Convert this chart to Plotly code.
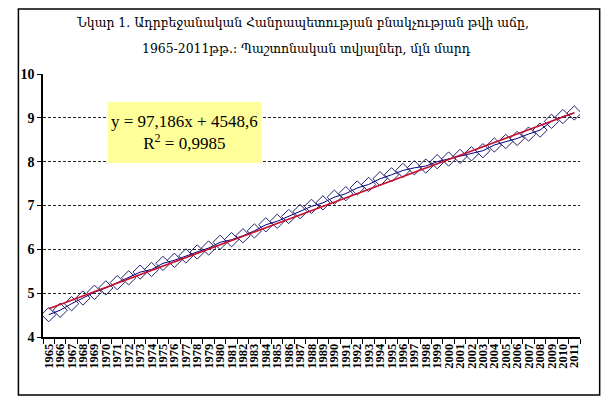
import plotly.graph_objects as go

years = [str(y) for y in range(1965, 2012)]
population = [4.51, 4.61, 4.76, 4.89, 5.02, 5.12, 5.24, 5.35, 5.48, 5.54,
              5.68, 5.75, 5.85, 5.94, 6.03, 6.16, 6.22, 6.31, 6.42, 6.56,
              6.64, 6.75, 6.86, 6.98, 7.06, 7.19, 7.27, 7.40, 7.48, 7.61,
              7.70, 7.80, 7.86, 7.90, 8.00, 8.06, 8.12, 8.18, 8.25, 8.38,
              8.46, 8.53, 8.63, 8.72, 8.92, 9.03, 9.11]
trend_slope = 97.186      # thousand per year index
trend_intercept = 4548.6  # thousand
trend_label = "y = 97,186x + 4548,6<br>R<sup>2</sup> = 0,9985"
title_line1 = "Նկար 1. Ադրբեջանական Հանրապետության բնակչության թվի աճը,"
title_line2 = "1965-2011թթ.: Պաշտոնական տվյալներ, մլն մարդ"
y_ticks = [4, 5, 6, 7, 8, 9, 10]

trend_values = [(trend_slope * (i + 1) + trend_intercept) / 1000 for i in range(len(years))]

# page offset of the figure (body margin)
OFF = 8
# plot area in page pixels
L, R, T, B = 34, 580, 74, 337
W, H = 603, 392
pw, ph = R - L, B - T
def px(x):
    return (x - L) / pw
def py(y):
    return (B - y) / ph

fig = go.Figure()
fig.add_trace(go.Scatter(
    x=years, y=population, mode="lines+markers",
    line=dict(color="#000080", width=1),
    marker=dict(symbol="diamond-open", size=11, color="#22226e", line=dict(width=1)),
    showlegend=False, hoverinfo="x+y"))
fig.add_trace(go.Scatter(
    x=years, y=trend_values, mode="lines",
    line=dict(color="#C8102E", width=1.7),
    showlegend=False, hoverinfo="skip"))

serif = "Liberation Serif, Times New Roman, serif"
arm = "DejaVu Serif Condensed, DejaVu Serif, serif"

fig.update_layout(
    width=W, height=H,
    margin=dict(l=L - OFF, r=W - (R - OFF), t=T - OFF, b=H - (B - OFF), pad=0),
    paper_bgcolor="white", plot_bgcolor="white",
    xaxis=dict(type="category", tickson="boundaries", ticks="outside", ticklen=5,
               tickcolor="black", showline=True, linecolor="black", linewidth=1.5,
               showgrid=False, tickangle=-90, dtick=1, tickmode="linear", tick0=0,
               tickfont=dict(family=serif, size=12.5, color="black", weight="bold"),
               range=[-0.5, len(years) - 0.5]),
    yaxis=dict(range=[4, 10], tickvals=y_ticks, ticks="outside", ticklen=4,
               tickcolor="black", showline=True, linecolor="black", linewidth=1.5,
               showgrid=True, gridcolor="#222222", griddash="3px,2px", gridwidth=1,
               zeroline=False,
               tickfont=dict(family=serif, size=14, color="black", weight="bold")),
    shapes=[
        dict(type="rect", xref="paper", yref="paper",
             x0=px(OFF + 1), x1=px(600), y0=py(395), y1=py(OFF + 1),
             line=dict(color="black", width=1.5), fillcolor="rgba(0,0,0,0)", layer="above"),
        dict(type="rect", xref="paper", yref="paper",
             x0=px(100), x1=px(256), y0=py(163), y1=py(102),
             line=dict(width=0), fillcolor="#FFFF99", layer="above"),
    ],
    annotations=[
        dict(text=title_line1, xref="paper", yref="paper", x=px(298), y=py(22),
             showarrow=False, xanchor="center", yanchor="middle",
             font=dict(family=arm, size=13.8, color="black")),
        dict(text=title_line2, xref="paper", yref="paper", x=px(302), y=py(48),
             showarrow=False, xanchor="center", yanchor="middle",
             font=dict(family=arm, size=13.8, color="black")),
        dict(text=trend_label, xref="paper", yref="paper", x=px(178), y=py(132),
             showarrow=False, xanchor="center", yanchor="middle", align="center",
             font=dict(family=serif, size=17, color="black")),
    ],
)

fig.write_html("out.html")
